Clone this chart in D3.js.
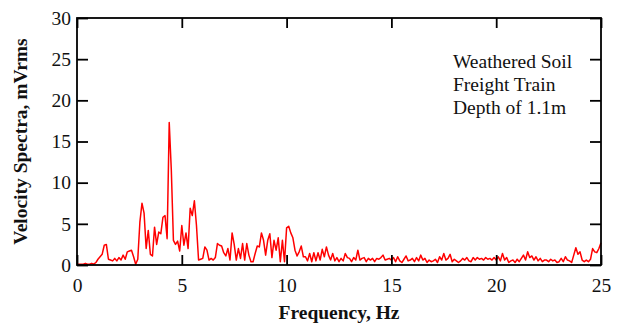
<!DOCTYPE html>
<html><head><meta charset="utf-8">
<script src="https://cdn.jsdelivr.net/npm/d3@7"></script>
<style>body{margin:0;background:#fff}svg{display:block}</style>
</head><body>
<svg id="c" width="619" height="327"></svg>
<script>
const freqStep = 0.1;
const velocity = [
0.1,0.1,0.1,0.1,0.2,0.1,0.1,0.2,0.1,0.3,
0.7,1.0,1.3,2.4,2.5,0.7,0.6,0.5,0.8,0.5,
0.9,0.6,1.2,0.7,1.6,1.7,1.8,1.0,0.1,0.7,
5.2,7.5,6.3,2.0,4.2,1.3,1.1,4.6,2.5,4.0,
3.8,5.8,6.0,3.2,17.3,11.5,3.0,2.5,2.9,1.7,
4.8,2.4,3.9,2.0,6.9,6.0,7.8,4.8,0.6,0.7,
0.8,2.2,1.8,0.6,0.8,0.6,0.9,2.6,2.4,2.3,
1.5,1.1,2.0,0.6,3.9,2.5,0.6,2.0,0.8,2.6,
0.6,2.6,1.2,0.4,0.4,1.4,2.3,2.2,3.9,3.0,
1.2,3.0,3.8,0.9,3.0,1.8,3.3,0.4,3.0,0.4,
4.5,4.7,3.9,3.3,1.8,1.1,1.6,2.3,1.0,1.0,
0.5,1.4,0.4,1.5,0.5,1.5,0.6,1.9,1.0,2.2,
1.2,0.6,1.4,0.5,0.9,0.4,0.8,0.5,1.4,0.9,
0.8,0.4,0.9,0.6,1.8,0.6,0.8,0.9,0.4,0.8,
0.6,0.8,0.4,0.8,0.7,0.9,1.2,0.6,0.7,0.8,
0.6,0.9,0.4,1.0,0.5,0.3,0.7,1.1,0.5,0.6,
0.8,0.4,0.9,0.5,1.2,0.6,0.8,0.3,0.6,0.4,
0.5,0.7,0.3,1.0,0.6,1.4,0.6,0.8,1.3,0.4,
0.7,0.5,0.3,0.5,0.8,0.6,0.9,0.5,0.4,0.9,
0.6,0.9,0.7,0.8,0.6,0.9,0.7,0.8,0.6,0.9,
0.6,1.0,0.5,1.4,0.6,0.9,0.3,0.5,0.6,0.3,
0.7,0.4,0.8,1.2,0.6,1.6,0.9,1.1,0.6,1.0,
0.5,0.8,0.4,0.6,0.6,0.4,0.7,0.5,0.6,0.3,
0.4,0.8,0.4,1.0,0.6,0.5,0.3,1.2,2.1,1.3,
1.6,0.6,0.4,0.6,0.4,0.7,2.0,1.6,1.5,2.0,
2.7];
const xTicks = [0,5,10,15,20,25];
const yTicks = [0,5,10,15,20,25,30];
const annotation = ["Weathered Soil","Freight Train","Depth of 1.1m"];
const xTitle = "Frequency, Hz";
const yTitle = "Velocity Spectra, mVrms";

const svg = d3.select("#c");
const L=77,R=601,T=18,B=265;
const x = d3.scaleLinear().domain([0,25]).range([L,R]);
const y = d3.scaleLinear().domain([0,30]).range([B,T]);
const font = "'Liberation Serif','Times New Roman',serif";
const fs = 19.5;

const pts = velocity.map((v,i)=>[i*freqStep, v]);
svg.append("path").datum(pts)
  .attr("fill","none").attr("stroke","#ff0000").attr("stroke-width",1.5)
  .attr("stroke-linejoin","round")
  .attr("d", d3.line().x(d=>x(d[0])).y(d=>y(d[1])));

const axStyle = g => { g.select(".domain").remove(); g.selectAll("line").attr("stroke","#000").attr("stroke-width",1.8);
  g.selectAll("text").attr("font-family",font).attr("font-size",fs).attr("fill","#111"); };

svg.append("g").attr("transform",`translate(0,${B})`)
  .call(d3.axisBottom(x).tickValues(xTicks).tickSize(-10).tickPadding(13).tickFormat(d3.format("d")))
  .call(axStyle);
svg.append("g").attr("transform",`translate(0,${T})`)
  .call(d3.axisTop(x).tickValues(xTicks).tickSize(-10).tickFormat(""))
  .call(axStyle);
svg.append("g").attr("transform",`translate(${L},0)`)
  .call(d3.axisLeft(y).tickValues(yTicks).tickSize(-11).tickPadding(6).tickFormat(d3.format("d")))
  .call(axStyle);
svg.append("g").attr("transform",`translate(${R},0)`)
  .call(d3.axisRight(y).tickValues(yTicks).tickSize(-11).tickFormat(""))
  .call(axStyle);

svg.append("rect").attr("x",L).attr("y",T).attr("width",R-L).attr("height",B-T)
  .attr("fill","none").attr("stroke","#000").attr("stroke-width",1.8);

svg.append("text").attr("x",(L+R)/2).attr("y",319).attr("text-anchor","middle")
  .attr("font-family",font).attr("font-weight","bold").attr("font-size",fs).attr("fill","#111").text(xTitle);
svg.append("text").attr("transform",`translate(27,${(T+B)/2}) rotate(-90)`).attr("text-anchor","middle")
  .attr("font-family",font).attr("font-weight","bold").attr("font-size",fs).attr("fill","#111").text(yTitle);

annotation.forEach((t,i)=>{
  svg.append("text").attr("x",453).attr("y",68+i*23)
    .attr("font-family",font).attr("font-size",fs).attr("fill","#111").text(t);
});
</script>
</body></html>
